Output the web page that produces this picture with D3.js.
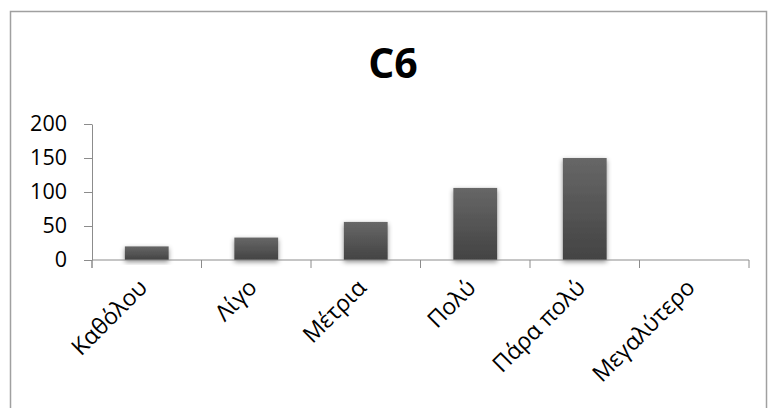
<!DOCTYPE html>
<html>
<head>
<meta charset="utf-8">
<script src="https://cdn.jsdelivr.net/npm/d3@7"></script>
<style>
  html, body { margin: 0; padding: 0; background: #fff; }
  svg { display: block; }
</style>
</head>
<body>
<script>
// data
const categories = ["Καθόλου", "Λίγο", "Μέτρια", "Πολύ", "Πάρα πολύ", "Μεγαλύτερο"];
const values     = [20, 33, 56, 106, 150, 0];
const yTicks     = [0, 50, 100, 150, 200];
const title      = "C6";

const WIDTH = 768, HEIGHT = 408;
const FONT = "'Open Sans', 'Noto Sans', sans-serif";

let plot = {left: 92, right: 749, top: 124, bottom: 260};

let svg = d3.select("body").append("svg")
    .attr("width", WIDTH)
    .attr("height", HEIGHT);

// gradient + soft shadow for the bars
let defs = svg.append("defs");
let grad = defs.append("linearGradient")
    .attr("id", "barGrad")
    .attr("x1", 0).attr("y1", 0).attr("x2", 0).attr("y2", 1);
grad.append("stop").attr("offset", "0%").attr("stop-color", "#676767");
grad.append("stop").attr("offset", "100%").attr("stop-color", "#434343");

let shadow = defs.append("filter")
    .attr("id", "shadow")
    .attr("x", "-30%").attr("y", "-30%")
    .attr("width", "160%").attr("height", "160%");
shadow.append("feDropShadow")
    .attr("dx", 0).attr("dy", 2)
    .attr("stdDeviation", 2.5)
    .attr("flood-color", "#000")
    .attr("flood-opacity", 0.45);

// chart area border
svg.append("rect")
    .attr("x", 10.5).attr("y", 11.5)
    .attr("width", 756).attr("height", 420)
    .attr("fill", "#fff")
    .attr("stroke", "#a0a0a0")
    .attr("stroke-width", 1.5);

// title
svg.append("text")
    .attr("x", 393).attr("y", 78)
    .attr("text-anchor", "middle")
    .attr("font-family", FONT)
    .attr("font-weight", "bold")
    .attr("font-size", 41)
    .attr("fill", "#000")
    .text(title);

// scales
let x = d3.scaleBand()
    .domain(categories)
    .range([plot.left, plot.right]);

let y = d3.scaleLinear()
    .domain([0, 200])
    .range([plot.bottom, plot.top]);

// bars
svg.append("g").selectAll("rect")
    .data(values)
    .enter().append("rect")
        .attr("x", (d, i) => x(categories[i]) + x.bandwidth() * 0.3)
        .attr("width", x.bandwidth() * 0.4)
        .attr("y", d => y(d))
        .attr("height", d => y(0) - y(d))
        .attr("fill", "url(#barGrad)")
        .attr("filter", d => d > 0 ? "url(#shadow)" : null);

// y axis
let yAxis = svg.append("g")
    .attr("transform", "translate(" + plot.left + ",0)")
    .call(d3.axisLeft(y).tickValues(yTicks).tickSize(8).tickPadding(17).tickSizeOuter(0));

yAxis.select(".domain").attr("stroke", "#8c8c8c");
yAxis.selectAll(".tick line").attr("stroke", "#8c8c8c");
yAxis.selectAll(".tick text")
    .attr("font-family", FONT)
    .attr("font-size", 21.5)
    .attr("fill", "#000");

// y axis line runs a little below zero, like the category ticks
svg.append("line")
    .attr("x1", plot.left).attr("x2", plot.left)
    .attr("y1", plot.bottom).attr("y2", plot.bottom + 8)
    .attr("stroke", "#8c8c8c");

// x axis
let xAxis = svg.append("g")
    .attr("transform", "translate(0," + plot.bottom + ")");

xAxis.append("line")
    .attr("x1", plot.left).attr("x2", plot.right)
    .attr("stroke", "#8c8c8c");

let boundaries = categories.map(c => x(c)).concat([plot.right]);
xAxis.selectAll(".xtick")
    .data(boundaries)
    .enter().append("line")
        .attr("class", "xtick")
        .attr("x1", d => d).attr("x2", d => d)
        .attr("y1", 0).attr("y2", 8)
        .attr("stroke", "#8c8c8c");

xAxis.selectAll(".xlabel")
    .data(categories)
    .enter().append("text")
        .attr("class", "xlabel")
        .attr("transform", d => "translate(" + (x(d) + x.bandwidth() / 2 + 2) + ",29) rotate(-45)")
        .attr("text-anchor", "end")
        .attr("font-family", FONT)
        .attr("font-size", 23)
        .attr("fill", "#000")
        .text(d => d);
</script>
</body>
</html>
